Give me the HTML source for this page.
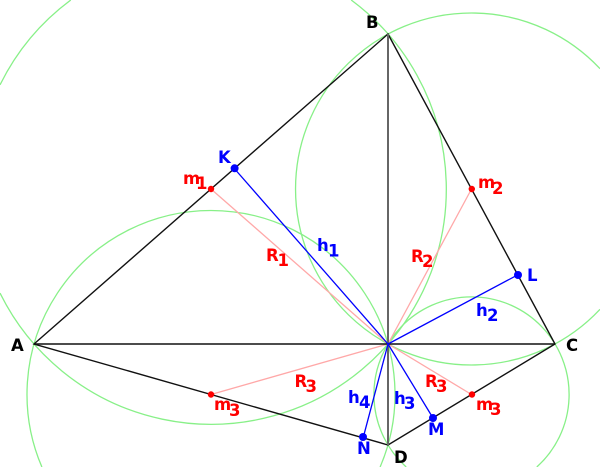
<!DOCTYPE html>
<html>
<head>
<meta charset="utf-8">
<style>
html,body{margin:0;padding:0;background:#fff;width:600px;height:467px;overflow:hidden}
svg{display:block}
text{font-family:"DejaVu Sans",sans-serif;font-weight:bold;font-size:16.5px}
.r{fill:#f00}.b{fill:#00f}.k{fill:#000}
</style>
</head>
<body>
<svg width="600" height="467" viewBox="0 0 600 467" xmlns="http://www.w3.org/2000/svg">
<g fill="none" stroke="#88f088" stroke-width="1.3">
<path d="M351.2 0A235.3 235.3 0 1 1 0 293.1"/>
<path d="M0 84.9A235.3 235.3 0 0 1 70.8 0"/>
<path d="M600 309.3A176 176 0 1 1 600 68.7"/>
<path d="M41.9 467A184 184 0 1 1 380.1 467"/>
<path d="M406.2 467A97.6 97.6 0 1 1 536.8 467"/>
</g>
<g stroke="#ffa8a8" stroke-width="1.3" fill="none">
<line x1="388" y1="344" x2="211" y2="189"/>
<line x1="388" y1="344" x2="471.5" y2="189"/>
<line x1="388" y1="344" x2="211" y2="394.5"/>
<line x1="388" y1="344" x2="471.5" y2="394.5"/>
</g>
<g stroke="#111" stroke-width="1.4" fill="none">
<polygon points="34,344 388,34 555,344 388,445"/>
<line x1="34" y1="344" x2="555" y2="344"/>
</g>
<line x1="388" y1="34" x2="388" y2="445" stroke="#666" stroke-width="2"/>
<g stroke="#00f" stroke-width="1.3">
<line x1="388" y1="344" x2="234.3" y2="168.5"/>
<line x1="388" y1="344" x2="517.9" y2="274.8"/>
<line x1="388" y1="344" x2="433" y2="418"/>
<line x1="388" y1="344" x2="363.3" y2="437.2"/>
</g>
<g fill="#f00">
<circle cx="211" cy="189" r="3.2"/>
<circle cx="471.8" cy="189" r="3.2"/>
<circle cx="211" cy="394.5" r="3.2"/>
<circle cx="472" cy="394.5" r="3.2"/>
</g>
<g fill="#00f">
<circle cx="234.6" cy="168.3" r="4"/>
<circle cx="518" cy="275" r="4"/>
<circle cx="433" cy="418" r="4"/>
<circle cx="363" cy="437" r="4"/>
</g>
<text class="k" x="366" y="28">B</text>
<text class="k" x="11" y="351">A</text>
<text class="k" x="566" y="351">C</text>
<text class="k" x="394" y="463">D</text>
<text class="b" x="218" y="163">K</text>
<text class="b" x="527" y="281">L</text>
<text class="b" x="428" y="435">M</text>
<text class="b" x="357" y="454">N</text>
<text class="r" x="183" y="184">m<tspan x="196" dy="5">1</tspan></text>
<text class="r" x="478" y="188">m<tspan x="492" dy="6">2</tspan></text>
<text class="r" x="214" y="410">m<tspan x="229" dy="6">3</tspan></text>
<text class="r" x="476" y="410">m<tspan x="490" dy="5">3</tspan></text>
<text class="r" x="266" y="261">R<tspan x="277.5" dy="5">1</tspan></text>
<text class="r" x="411" y="262">R<tspan x="422" dy="5">2</tspan></text>
<text class="r" x="294.5" y="387">R<tspan x="305.5" dy="5">3</tspan></text>
<text class="r" x="425" y="387">R<tspan x="436" dy="5">3</tspan></text>
<text class="b" x="317" y="251">h<tspan x="328" dy="5.5">1</tspan></text>
<text class="b" x="476" y="316">h<tspan x="487" dy="5">2</tspan></text>
<text class="b" x="394" y="404">h<tspan x="404" dy="5">3</tspan></text>
<text class="b" x="348" y="403">h<tspan x="359" dy="5">4</tspan></text>
</svg>
</body>
</html>
